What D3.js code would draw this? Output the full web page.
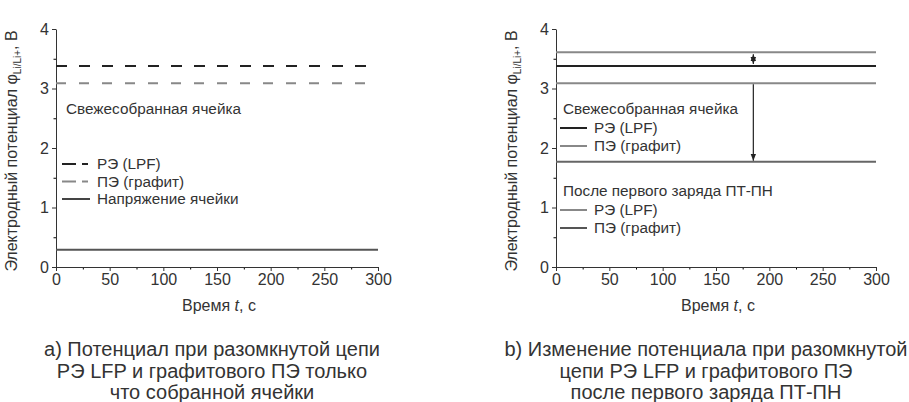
<!DOCTYPE html>
<html>
<head>
<meta charset="utf-8">
<script src="https://cdn.jsdelivr.net/npm/d3@7"></script>
<style>
  body { margin: 0; background: #fff; }
  text { font-family: Arial, "Liberation Sans", sans-serif; fill: #333; }
</style>
</head>
<body>
<svg width="909" height="402"></svg>
<script>
// time span of every record, s
var timeSpan = [0, 300];
var xTicks = [0, 50, 100, 150, 200, 250, 300];
var yTicks = [0, 1, 2, 3, 4];

// panel a: freshly assembled cell
var freshLPF_a = [3.38, 3.38];
var freshGraphite_a = [3.09, 3.09];
var cellVoltage_a = [0.29, 0.29];

// panel b: fresh cell vs. after first CC-CV charge
var freshLPF_b = [3.38, 3.38];
var freshGraphite_b = [3.09, 3.09];
var chargedLPF_b = [3.61, 3.61];
var chargedGraphite_b = [1.77, 1.77];
var arrowTime = 185;

var captionA = ["а) Потенциал при разомкнутой цепи", "РЭ LFP и графитового ПЭ только", "что собранной ячейки"];
var captionB = ["b) Изменение потенциала при разомкнутой", "цепи РЭ LFP и графитового ПЭ", "после первого заряда ПТ-ПН"];

var svg = d3.select("svg");

var defs = svg.append("defs");
defs.append("marker")
    .attr("id", "head")
    .attr("viewBox", "0 0 10 10")
    .attr("refX", 10).attr("refY", 5)
    .attr("markerWidth", 7).attr("markerHeight", 7)
    .attr("markerUnits", "userSpaceOnUse")
    .attr("orient", "auto-start-reverse")
    .append("path")
    .attr("d", "M0,1 L10,5 L0,9 Z")
    .attr("fill", "#222");

function series(values) {
    return timeSpan.map(function (t, i) { return [t, values[i]]; });
}

function drawPanel(left, right) {
    var x = d3.scaleLinear().domain(timeSpan).range([left, right]);
    var y = d3.scaleLinear().domain([0, 4]).range([267, 29]);
    var g = svg.append("g");

    // minor ticks
    g.append("g")
        .attr("transform", "translate(0,267)")
        .call(d3.axisBottom(x).tickValues(d3.range(25, 300, 50)).tickSize(2.5).tickFormat(""))
        .call(function (a) { a.select(".domain").remove(); });
    g.append("g")
        .attr("transform", "translate(" + left + ",0)")
        .call(d3.axisLeft(y).tickValues(d3.range(0.5, 4, 1)).tickSize(2.5).tickFormat(""))
        .call(function (a) { a.select(".domain").remove(); });

    var xAxis = g.append("g")
        .attr("transform", "translate(0,267)")
        .call(d3.axisBottom(x).tickValues(xTicks).tickSize(4).tickSizeOuter(0).tickPadding(3));
    var yAxis = g.append("g")
        .attr("transform", "translate(" + left + ",0)")
        .call(d3.axisLeft(y).tickValues(yTicks).tickFormat(d3.format("d")).tickSize(4).tickSizeOuter(0).tickPadding(3));

    [xAxis, yAxis].forEach(function (a) {
        a.selectAll("path, line").attr("stroke", "#333").attr("stroke-width", 1);
        a.selectAll("text").style("font-size", "16px").attr("fill", "#333")
            .style("font-family", "Arial, 'Liberation Sans', sans-serif");
    });

    // axis titles
    var xt = g.append("text")
        .attr("x", (left + right) / 2 + 2).attr("y", 311)
        .attr("text-anchor", "middle")
        .style("font-size", "16px");
    xt.append("tspan").text("Время ");
    xt.append("tspan").style("font-style", "italic").text("t");
    xt.append("tspan").text(", с");

    var yt = g.append("text")
        .attr("transform", "translate(" + (left - 39) + ",151) rotate(-90)")
        .attr("text-anchor", "middle")
        .style("font-size", "16px");
    yt.append("tspan").text("Электродный потенциал φ");
    yt.append("tspan").attr("dy", 4).style("font-size", "10px").text("Li/Li+");
    yt.append("tspan").attr("dy", -4).text(", В");

    return { g: g, x: x, y: y };
}

var line = function (p) {
    return d3.line().x(function (d) { return p.x(d[0]); }).y(function (d) { return p.y(d[1]); });
};

// ---------- panel a ----------
var pa = drawPanel(56, 378);
pa.g.append("path").datum(series(freshLPF_a))
    .attr("d", line(pa)).attr("fill", "none")
    .attr("stroke", "#222").attr("stroke-width", 2).attr("stroke-dasharray", "11,12");
pa.g.append("path").datum(series(freshGraphite_a))
    .attr("d", line(pa)).attr("fill", "none")
    .attr("stroke", "#888").attr("stroke-width", 2).attr("stroke-dasharray", "10,13");
pa.g.append("path").datum(series(cellVoltage_a))
    .attr("d", line(pa)).attr("fill", "none")
    .attr("stroke", "#555").attr("stroke-width", 2.2);

pa.g.append("text").attr("x", 66).attr("y", 114).style("font-size", "15.3px").text("Свежесобранная ячейка");
var legA = [
    { label: "РЭ (LPF)", color: "#222", dash: true },
    { label: "ПЭ (графит)", color: "#888", dash: true },
    { label: "Напряжение ячейки", color: "#444", dash: false }
];
legA.forEach(function (d, i) {
    var yy = 164 + i * 17.5;
    pa.g.append("line").attr("x1", 62).attr("x2", 90).attr("y1", yy).attr("y2", yy)
        .attr("stroke", d.color).attr("stroke-width", 2)
        .attr("stroke-dasharray", d.dash ? "14,6,6,40" : null);
    pa.g.append("text").attr("x", 97).attr("y", yy + 5).style("font-size", "15.3px").text(d.label);
});

// ---------- panel b ----------
var pb = drawPanel(556, 876);
[
    { v: chargedLPF_b, c: "#888" },
    { v: freshLPF_b, c: "#222" },
    { v: freshGraphite_b, c: "#888" },
    { v: chargedGraphite_b, c: "#666" }
].forEach(function (s) {
    pb.g.append("path").datum(series(s.v))
        .attr("d", line(pb)).attr("fill", "none")
        .attr("stroke", s.c).attr("stroke-width", 2);
});

pb.g.append("line")
    .attr("x1", pb.x(arrowTime)).attr("x2", pb.x(arrowTime))
    .attr("y1", pb.y(chargedLPF_b[0]) + 2).attr("y2", pb.y(freshLPF_b[0]) - 2)
    .attr("stroke", "#222").attr("stroke-width", 1.2)
    .attr("marker-start", "url(#head)").attr("marker-end", "url(#head)");
pb.g.append("line")
    .attr("x1", pb.x(arrowTime)).attr("x2", pb.x(arrowTime))
    .attr("y1", pb.y(freshGraphite_b[0]) + 1).attr("y2", pb.y(chargedGraphite_b[0]) - 1)
    .attr("stroke", "#222").attr("stroke-width", 1.2)
    .attr("marker-end", "url(#head)");

var legB = [
    { head: "Свежесобранная ячейка", y: 114, items: [["РЭ (LPF)", "#222"], ["ПЭ (графит)", "#888"]] },
    { head: "После первого заряда ПТ-ПН", y: 196, items: [["РЭ (LPF)", "#888"], ["ПЭ (графит)", "#555"]] }
];
legB.forEach(function (grp) {
    pb.g.append("text").attr("x", 563).attr("y", grp.y).style("font-size", "15.3px").text(grp.head);
    grp.items.forEach(function (it, i) {
        var yy = grp.y + 14 + i * 18;
        pb.g.append("line").attr("x1", 560).attr("x2", 587).attr("y1", yy).attr("y2", yy)
            .attr("stroke", it[1]).attr("stroke-width", 2);
        pb.g.append("text").attr("x", 594).attr("y", yy + 5).style("font-size", "15.3px").text(it[0]);
    });
});

// ---------- captions ----------
function caption(lines, cx) {
    lines.forEach(function (s, i) {
        svg.append("text")
            .attr("x", cx).attr("y", 356 + i * 21.5)
            .attr("text-anchor", "middle")
            .style("font-size", "20px").text(s);
    });
}
caption(captionA, 212);
caption(captionB, 706);
</script>
</body>
</html>
